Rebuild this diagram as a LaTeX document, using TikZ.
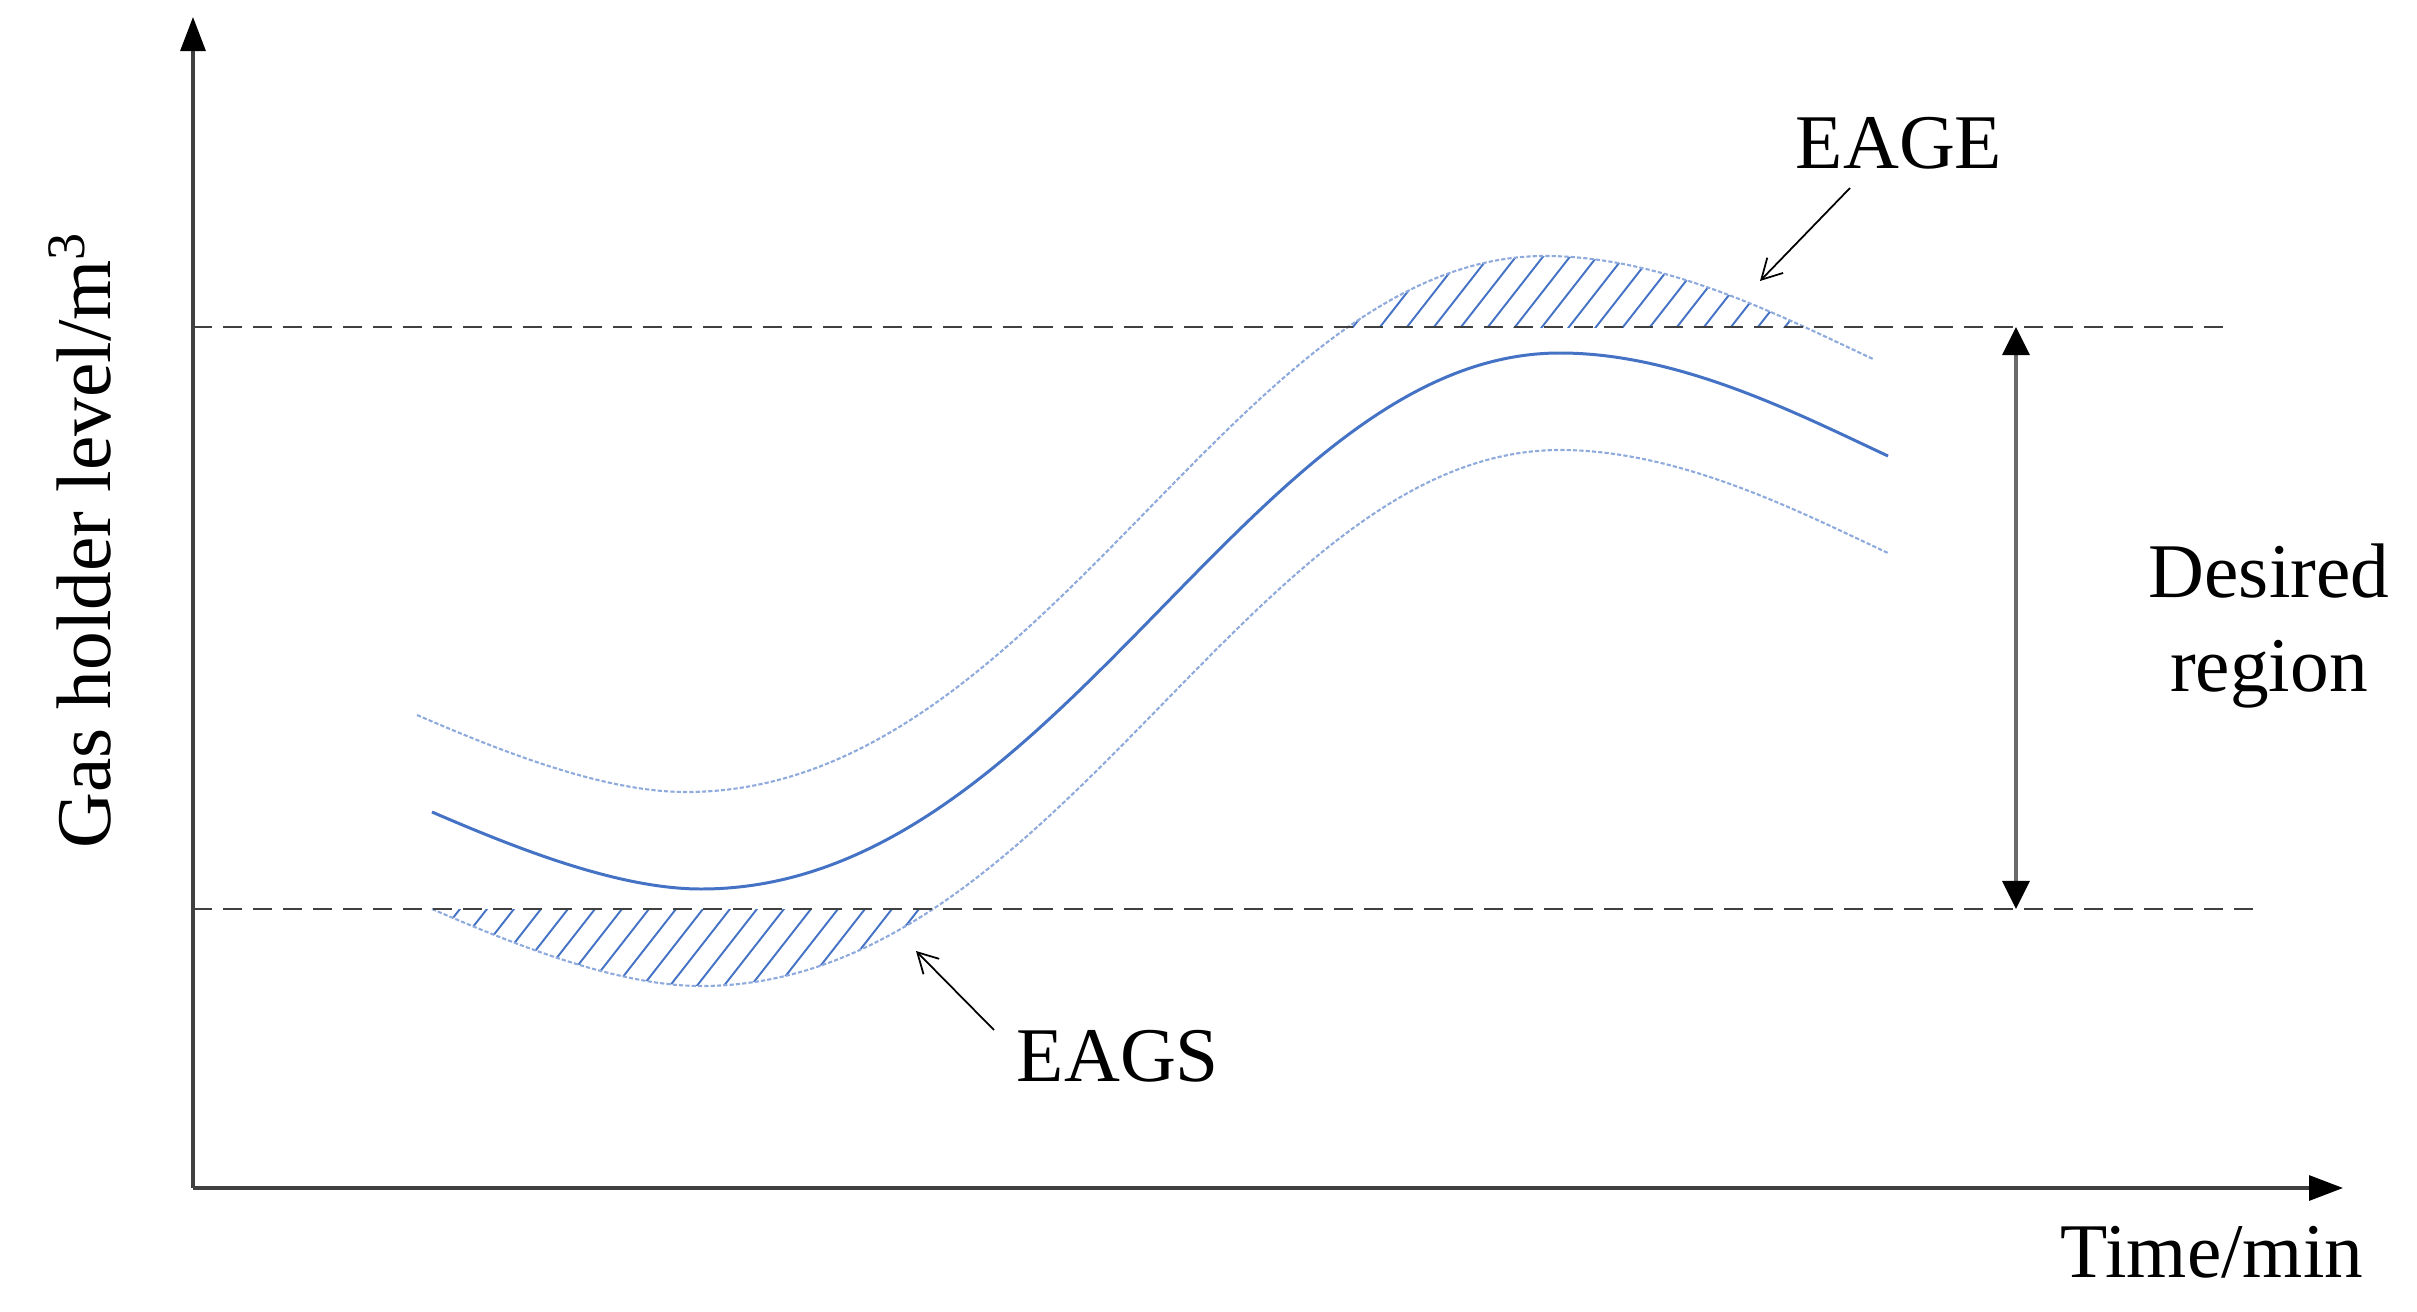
\documentclass[tikz,border=0pt]{standalone}
\usepackage{fontspec}
\setmainfont{Liberation Serif}
\usetikzlibrary{arrows.meta}
\definecolor{curveblue}{HTML}{4472C4}
\definecolor{lightblue}{HTML}{8FAADC}
\definecolor{axisgray}{HTML}{404040}
\definecolor{arrgray}{HTML}{6A6A6A}
\begin{document}
\begin{tikzpicture}[x=0.01cm,y=-0.01cm,
  lbl/.style={font=\fontsize{22}{27}\selectfont, inner sep=0pt, align=center},
  axisline/.style={axisgray, line width=0.9pt, -{Triangle[length=0.34cm,width=0.25cm,color=black]}},
  guide/.style={axisgray, line width=0.6pt, dash pattern=on 0.19cm off 0.11cm},
  maincurve/.style={curveblue, line width=0.85pt},
  bandcurve/.style={lightblue, line width=0.6pt, dash pattern=on 1.2pt off 0.6pt},
  hatchline/.style={curveblue, line width=0.55pt},
  pointer/.style={black, line width=0.5pt, -{Straight Barb[length=0.2cm,width=0.22cm]}}
]
\useasboundingbox (0,0) rectangle (2417,1312);

% named points
\coordinate (o) at (193,1188);
\coordinate (ytip) at (193,17);
\coordinate (xtip) at (2343,1188);
\coordinate (upL) at (193,327);
\coordinate (upR) at (2232,327);
\coordinate (loL) at (193,909);
\coordinate (loR) at (2263,909);
\coordinate (dTop) at (2016,327);
\coordinate (dBot) at (2016,909);

% hatch EAGE
\begin{scope}
  \clip (0,0) rectangle (2417,327);
  \clip[shift={(-15,-97)}] (432,812) .. controls (520,850) and (620,889) .. (701,889)
     .. controls (1060,889) and (1250,353) .. (1560,353)
     .. controls (1680,353) and (1800,415) .. (1888,456) -- (1888,1312) -- (432,1312) -- cycle;
  \foreach \x in {1200,1227,...,1900} \draw[hatchline] (\x,350) -- ++(86,-110);
\end{scope}
% hatch EAGS
\begin{scope}
  \clip (0,909) rectangle (2417,1312);
  \clip[shift={(0,97)}] (432,812) .. controls (520,850) and (620,889) .. (701,889)
     .. controls (1060,889) and (1250,353) .. (1560,353)
     .. controls (1680,353) and (1800,415) .. (1888,456) -- (1888,0) -- (432,0) -- cycle;
  \foreach \x in {300,327,...,1000} \draw[hatchline] (\x,1010) -- ++(86,-110);
\end{scope}

% curves
\draw[maincurve] (432,812) .. controls (520,850) and (620,889) .. (701,889)
     .. controls (1060,889) and (1250,353) .. (1560,353)
     .. controls (1680,353) and (1800,415) .. (1888,456);
\draw[bandcurve, shift={(-15,-97)}] (432,812) .. controls (520,850) and (620,889) .. (701,889)
     .. controls (1060,889) and (1250,353) .. (1560,353)
     .. controls (1680,353) and (1800,415) .. (1888,456);
\draw[bandcurve, shift={(0,97)}] (432,812) .. controls (520,850) and (620,889) .. (701,889)
     .. controls (1060,889) and (1250,353) .. (1560,353)
     .. controls (1680,353) and (1800,415) .. (1888,456);

% guides
\draw[guide] (upL) -- (upR);
\draw[guide] (loL) -- (loR);

% axes
\draw[axisline] (o) -- (ytip);
\draw[axisline] (o) -- (xtip);

% desired region arrow
\draw[arrgray, line width=0.9pt, {Triangle[length=0.28cm,width=0.27cm,color=black]}-{Triangle[length=0.28cm,width=0.27cm,color=black]}] (dTop) -- (dBot);

% labels
\node[lbl] (eage) at (1899,143) {EAGE};
\node[lbl] (eags) at (1118,1056) {EAGS};
\node[lbl] (time) at (2212,1252) {Time/min};
\node[lbl] (desired) at (2269,626) {Desired\\region};
\node[lbl, rotate=90] (ylab) at (80,540) {Gas holder level/m\textsuperscript{3}};

\coordinate (eageS) at (1850,188);
\coordinate (eageT) at (1760,281);
\coordinate (eagsS) at (994,1030);
\coordinate (eagsT) at (916,951);
\draw[pointer] (eageS) -- (eageT);
\draw[pointer] (eagsS) -- (eagsT);
\end{tikzpicture}
\end{document}
